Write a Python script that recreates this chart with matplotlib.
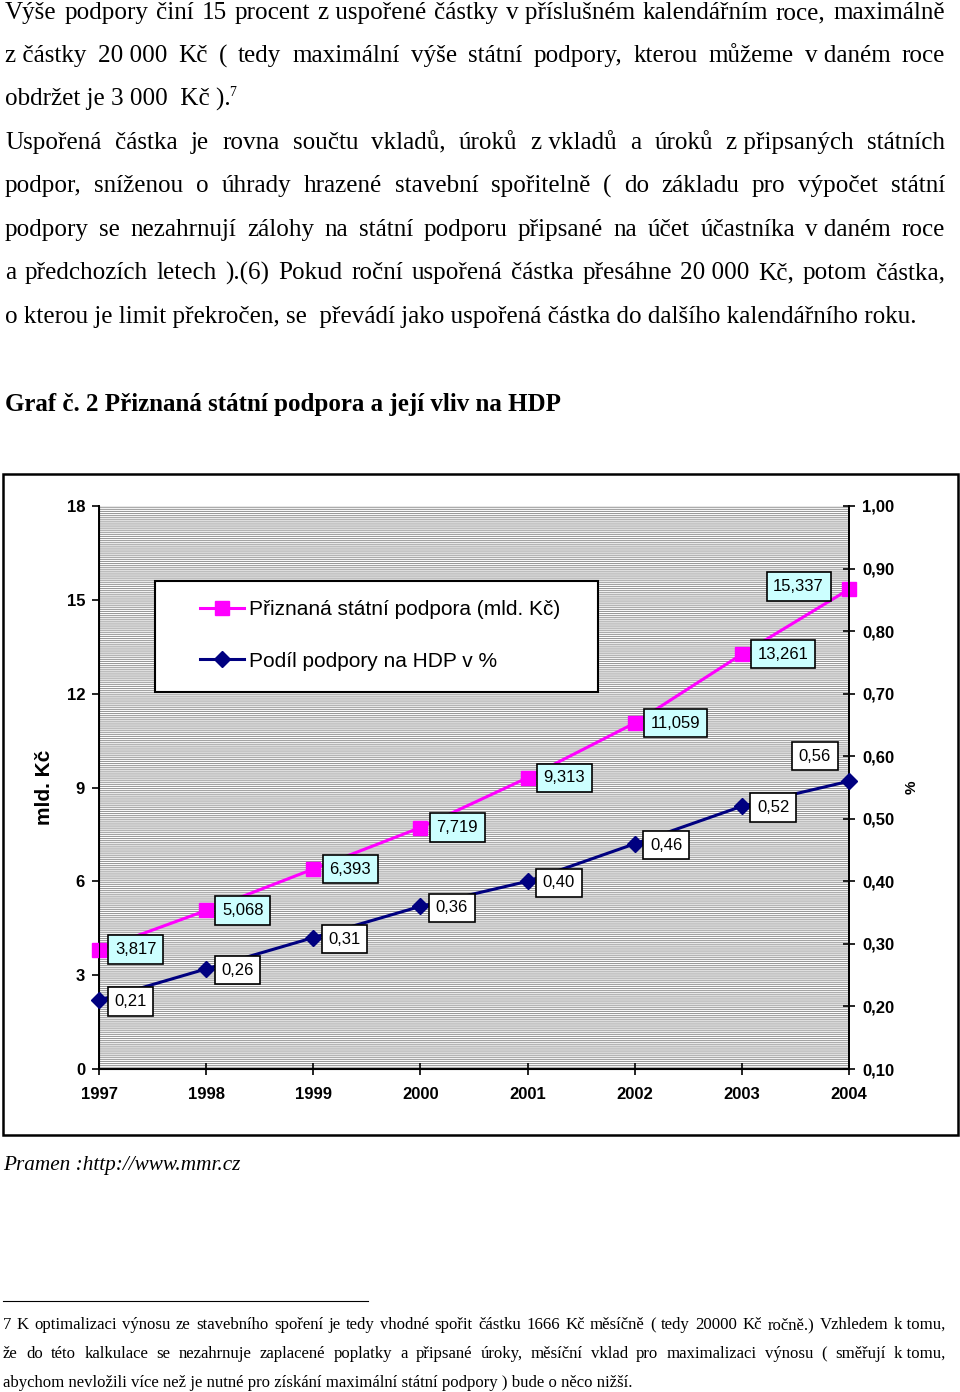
import matplotlib
matplotlib.use("Agg")
import matplotlib.pyplot as plt
from matplotlib.patches import Rectangle
from matplotlib.lines import Line2D
from matplotlib.ticker import FuncFormatter

W, H = 960, 1392
NB = "\u00a0"

# data
years = [1997, 1998, 1999, 2000, 2001, 2002, 2003, 2004]
podpora = [3.817, 5.068, 6.393, 7.719, 9.313, 11.059, 13.261, 15.337]
podil_hdp = [0.21, 0.26, 0.31, 0.36, 0.40, 0.46, 0.52, 0.56]
left_ticks = [0, 3, 6, 9, 12, 15, 18]
right_ticks = [0.10, 0.20, 0.30, 0.40, 0.50, 0.60, 0.70, 0.80, 0.90, 1.00]
series_names = ["Přiznaná státní podpora (mld. Kč)", "Podíl podpory na HDP v %"]

# page text
para1 = [
    "Výše podpory činí 15 procent z" + NB + "uspořené částky v" + NB + "příslušném kalendářním roce, maximálně",
    "z" + NB + "částky 20" + NB + "000 Kč ( tedy maximální výše státní podpory, kterou můžeme v" + NB + "daném roce",
]
para1_last = "obdržet je 3 000  Kč )."
para2 = [
    "Uspořená částka je rovna součtu vkladů, úroků z" + NB + "vkladů a úroků z" + NB + "připsaných státních",
    "podpor, sníženou o úhrady hrazené stavební spořitelně ( do základu pro výpočet státní",
    "podpory se nezahrnují zálohy na státní podporu připsané na účet účastníka v" + NB + "daném roce",
    "a předchozích letech ).(6) Pokud roční uspořená částka přesáhne 20" + NB + "000 Kč, potom částka,",
]
para2_last = "o kterou je limit překročen, se  převádí jako uspořená částka do dalšího kalendářního roku."
heading = "Graf č. 2 Přiznaná státní podpora a její vliv na HDP"
source = "Pramen :http://www.mmr.cz"
footnote = [
    "7 K optimalizaci výnosu ze stavebního spoření je tedy vhodné spořit částku 1666 Kč  měsíčně ( tedy 20000 Kč ročně.) Vzhledem  k" + NB + "tomu,",
    "že do této kalkulace  se nezahrnuje zaplacené poplatky a připsané úroky, měsíční vklad pro maximalizaci výnosu ( směřují k" + NB + "tomu,",
]
footnote_last = "abychom nevložili více než je nutné pro získání maximální státní podpory ) bude o něco nižší."

plt.rcParams["font.family"] = ["Liberation Sans", "DejaVu Sans"]
plt.rcParams["hatch.linewidth"] = 0.75

fig = plt.figure(figsize=(W / 100, H / 100), dpi=100)
fig.patch.set_facecolor("white")
renderer = fig.canvas.get_renderer()


def fx(x):
    return x / W


def fy(y):
    return 1 - y / H


def text_width(s, **kw):
    t = fig.text(0, 0, s, **kw)
    w = t.get_window_extent(renderer).width
    t.remove()
    return w


def fit_size(s, width, **kw):
    return 10 * width / text_width(s, fontsize=10, **kw)


def justified(s, x0, x1, y, **kw):
    words = [w for w in s.split(" ") if w]
    widths = [text_width(w, **kw) for w in words]
    gap = (x1 - x0 - sum(widths)) / (len(words) - 1)
    x = x0
    for w, wd in zip(words, widths):
        fig.text(fx(x), fy(y), w, va="baseline", ha="left", **kw)
        x += wd + gap


serif = dict(family="Liberation Serif")
body = dict(serif, fontsize=fit_size(para2_last, 911, **serif))

for i, line in enumerate(para1):
    justified(line, 5, 945, 19 + i * 43.3, **body)
fig.text(fx(5), fy(19 + 2 * 43.3), para1_last, va="baseline", **body)
fig.text(fx(229), fy(96), "7", va="baseline", family="Liberation Serif", fontsize=10)

for i, line in enumerate(para2):
    justified(line, 5, 945, 149 + i * 43.4, **body)
fig.text(fx(5), fy(149 + 4 * 43.4), para2_last, va="baseline", **body)

head = dict(serif, weight="bold")
fig.text(fx(5), fy(411), heading, va="baseline",
         fontsize=fit_size(heading, 558, **head), **head)

ital = dict(serif, style="italic")
fig.text(fx(3), fy(1170), source, va="baseline",
         fontsize=fit_size(source, 238, **ital), **ital)

fig.add_artist(Line2D([fx(3), fx(368)], [fy(1301), fy(1301)], color="black", lw=0.8))
foot = dict(serif, fontsize=fit_size(footnote_last, 632, **serif))
for i, line in enumerate(footnote):
    justified(line, 3, 945, 1329 + i * 29, **foot)
fig.text(fx(3), fy(1329 + 2 * 29), footnote_last, va="baseline", **foot)

# chart frame
fig.add_artist(Rectangle((fx(3), fy(1135)), 955 / W, 661 / H, transform=fig.transFigure,
                         fill=False, ec="black", lw=1.8))

ax = fig.add_axes([fx(99), fy(1069), 750 / W, 563 / H])
# striped plot area, like the Excel pattern fill
ax.add_patch(Rectangle((0, 0), 1, 1, transform=ax.transAxes, facecolor="white",
                       edgecolor="#999999", lw=0, hatch="-" * 8, zorder=0))
ax.set_xlim(1997, 2004)
ax.set_ylim(0, 18)
ax.set_xticks(years)
ax.set_yticks(left_ticks)
ax.spines["top"].set_visible(False)
for s in ("left", "bottom", "right"):
    ax.spines[s].set_linewidth(1.4)
ax.tick_params(axis="y", direction="out", length=5, width=1.2, pad=5, labelsize=12)
ax.tick_params(axis="x", direction="inout", length=8, width=1.2, pad=9, labelsize=12)
for lab in ax.get_xticklabels() + ax.get_yticklabels():
    lab.set_fontweight("bold")

ax2 = ax.twinx()
ax2.set_ylim(0.1, 1.0)
ax2.set_yticks(right_ticks)
ax2.yaxis.set_major_formatter(FuncFormatter(lambda v, p: f"{v:.2f}".replace(".", ",")))
ax2.spines["top"].set_visible(False)
ax2.spines["right"].set_linewidth(1.4)
ax2.tick_params(axis="y", direction="inout", length=9, width=1.2, pad=5, labelsize=12)
for lab in ax2.get_yticklabels():
    lab.set_fontweight("bold")

pink, = ax.plot(years, podpora, color="#ff00ff", lw=2.2, marker="s", markersize=10.5,
                clip_on=False, zorder=3, label=series_names[0])
navy, = ax2.plot(years, podil_hdp, color="#000080", lw=2.2, marker="D", markersize=8.5,
                 clip_on=False, zorder=3, label=series_names[1])

for i, (yr, v) in enumerate(zip(years, podpora)):
    last = i == len(years) - 1
    ax.annotate(f"{v:.3f}".replace(".", ","), (yr, v),
                xytext=(-18, 2) if last else (11.5, 0), textcoords="offset points",
                ha="right" if last else "left", va="center", fontsize=12, zorder=4,
                bbox=dict(boxstyle="square,pad=0.4", fc="#ccffff", ec="black", lw=1.2))
for i, (yr, v) in enumerate(zip(years, podil_hdp)):
    last = i == len(years) - 1
    ax2.annotate(f"{v:.2f}".replace(".", ","), (yr, v),
                 xytext=(-13, 18) if last else (11, -1), textcoords="offset points",
                 ha="right" if last else "left", va="center", fontsize=12, zorder=4,
                 bbox=dict(boxstyle="square,pad=0.4", fc="white", ec="black", lw=1.2))

# legend box
ax2.add_patch(Rectangle((0.0747, 0.6696), 0.5906, 0.1972, transform=ax2.transAxes,
                        facecolor="white", edgecolor="black", lw=1.5, zorder=5))
leg = ax2.legend(handles=[pink, navy], loc="center left", bbox_to_anchor=(0.1347, 0.770),
                 frameon=False, fontsize=15, borderpad=0, borderaxespad=0,
                 handlelength=2.1, handletextpad=0.25, labelspacing=1.55)
leg.set_zorder(6)

fig.text(fx(45), fy(787), "mld. Kč", rotation=90, ha="center", va="center",
         fontsize=15, fontweight="bold")
fig.text(fx(912), fy(787), "%", rotation=90, ha="center", va="center",
         fontsize=11, fontweight="bold")

fig.savefig("out.png", dpi=100, facecolor="white")
